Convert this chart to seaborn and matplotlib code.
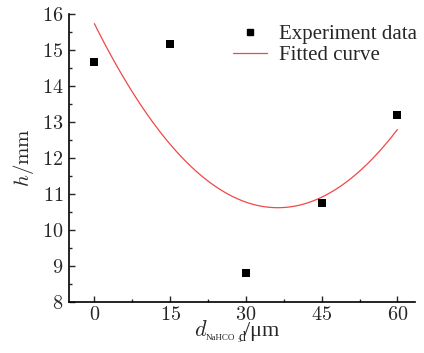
import numpy as np
import matplotlib
matplotlib.use("Agg")
import matplotlib.pyplot as plt
import pandas as pd
import seaborn as sns
from matplotlib.lines import Line2D
from matplotlib.ticker import MultipleLocator, FuncFormatter

# particle size of NaHCO3 (um) and measured h (mm)
d_nahco3 = [0, 15, 30, 45, 60]
h_mm = [14.67, 15.17, 8.80, 10.75, 13.20]
x_ticks = [0, 15, 30, 45, 60]

df = pd.DataFrame({"d": d_nahco3, "h": h_mm})

sns.set_style("ticks")
plt.rcParams["font.family"] = ["Liberation Serif", "DejaVu Serif"]
plt.rcParams["mathtext.fontset"] = "cm"

fig = plt.figure(figsize=(4.24, 3.53), dpi=100)
ax = fig.add_axes([0.163, 0.145, 0.816, 0.815])

# quadratic fit curve drawn by seaborn
sns.regplot(x="d", y="h", data=df, order=2, ci=None, scatter=False,
            line_kws={"color": "#f04848", "lw": 0.9}, ax=ax)
sns.scatterplot(x="d", y="h", data=df, marker="s", color="black",
                s=28, edgecolor="black", linewidth=0, ax=ax, zorder=3)

ax.set_xlim(-5, 63.5)
ax.set_ylim(8, 16)
ax.set_xticks(x_ticks)
ax.xaxis.set_minor_locator(MultipleLocator(7.5))
ax.yaxis.set_major_locator(MultipleLocator(1))
ax.yaxis.set_minor_locator(MultipleLocator(0.5))
fmt = FuncFormatter(lambda v, p: f"${v:g}$")
ax.xaxis.set_major_formatter(fmt)
ax.yaxis.set_major_formatter(fmt)
ax.tick_params(which="both", direction="in", labelsize=14.5, width=1)
ax.tick_params(which="major", length=4)
ax.tick_params(which="minor", length=2)
ax.tick_params(axis="x", pad=3)
ax.tick_params(axis="y", pad=4)
sns.despine(ax=ax)
for s in ["left", "bottom"]:
    ax.spines[s].set_linewidth(1.2)
    ax.spines[s].set_color("black")

# x label in pieces so the subscript can be small
lab_x, lab_y = 0.36, -24.5
pieces = [
    (r"$d$", 0, 0, 16),
    ("NaHCO", 9.0, -3, 6.5),
    ("3", 32.0, -4.3, 5),
    ("/μm", 36.5, 0, 16),
]
for txt, dx, dy, size in pieces:
    ax.annotate(txt, xy=(lab_x, 0), xycoords="axes fraction",
                xytext=(dx, lab_y + dy), textcoords="offset points",
                fontsize=size, ha="left", va="baseline")

ax.set_ylabel(r"$h/\mathrm{mm}$", fontsize=15, labelpad=4)

handles = [
    Line2D([], [], marker="s", color="black", ls="none", markersize=5),
    Line2D([], [], color="#f04848", lw=0.9),
]
ax.legend(handles, ["Experiment data", "Fitted curve"], loc="upper right",
          bbox_to_anchor=(1.06, 1.03), frameon=False, fontsize=15,
          handlelength=1.6, handletextpad=0.6, labelspacing=0.1)

fig.savefig("out.png", dpi=100)
